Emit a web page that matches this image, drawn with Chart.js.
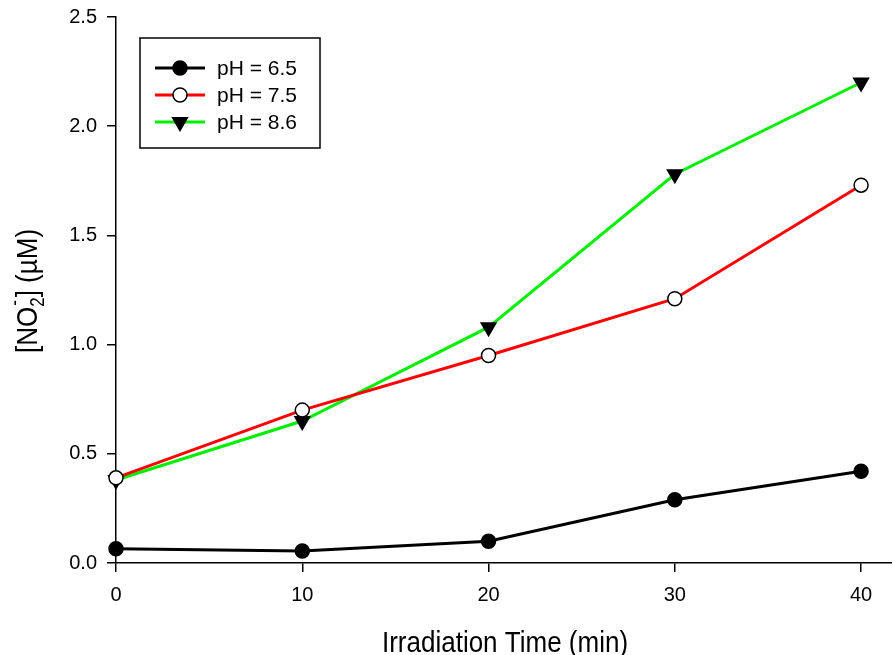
<!DOCTYPE html>
<html>
<head>
<meta charset="utf-8">
<script src="https://cdn.jsdelivr.net/npm/chart.js@4.4.1/dist/chart.umd.min.js"></script>
<style>
  html, body { margin: 0; padding: 0; background: #fff; }
  #wrap { width: 892px; height: 655px; position: relative; }
</style>
</head>
<body>
<div id="wrap"><canvas id="c"></canvas></div>
<script>
const times = [0, 10, 20, 30, 40]
const ph65 = [0.065, 0.055, 0.10, 0.29, 0.42]
const ph75 = [0.39, 0.70, 0.95, 1.21, 1.73]
const ph86 = [0.38, 0.65, 1.08, 1.78, 2.20]
const seriesLabels = ['pH = 6.5', 'pH = 7.5', 'pH = 8.6']
const xTitle = 'Irradiation Time (min)'

const FONT = '"Liberation Sans", Arial, Helvetica, sans-serif'
const STRETCH = 1.15

const pts = vals => times.map((t, i) => ({ x: t, y: vals[i] }))

const base = { borderWidth: 3, pointRadius: 7, pointHoverRadius: 7, pointBorderWidth: 1.5, pointBorderColor: '#000', clip: false, tension: 0 }

// legend box + axis titles (sub/superscripts need manual drawing)
const extras = {
  id: 'extras',
  afterDraw(chart) {
    const ctx = chart.ctx
    ctx.save()
    // legend
    const lx = 140, ly = 38, lw = 180, lh = 110
    ctx.fillStyle = '#fff'
    ctx.fillRect(lx, ly, lw, lh)
    ctx.strokeStyle = '#000'
    ctx.lineWidth = 1.5
    ctx.strokeRect(lx, ly, lw, lh)
    chart.data.datasets.forEach((ds, i) => {
      const y = ly + 30 + i * 27
      ctx.strokeStyle = ds.borderColor
      ctx.lineWidth = 3
      ctx.beginPath(); ctx.moveTo(155, y); ctx.lineTo(205, y); ctx.stroke()
      ctx.fillStyle = ds.pointBackgroundColor
      ctx.strokeStyle = '#000'
      ctx.lineWidth = 1.5
      Chart.helpers.drawPoint(ctx, { pointStyle: ds.pointStyle, rotation: ds.pointRotation || 0, radius: ds.pointRadius, borderWidth: 1.5 }, 180, y)
      ctx.fillStyle = '#000'
      ctx.font = '21px ' + FONT
      ctx.textAlign = 'left'
      ctx.textBaseline = 'middle'
      ctx.fillText(ds.label, 217, y + 1)
    })
    ctx.restore()

    // x title
    ctx.save()
    ctx.fillStyle = '#000'
    ctx.font = '26px ' + FONT
    ctx.textAlign = 'center'
    ctx.textBaseline = 'alphabetic'
    ctx.translate(505, 652)
    ctx.scale(1, STRETCH)
    ctx.fillText(xTitle, 0, 0)
    ctx.restore()

    // y title: [NO2-] (µM)
    ctx.save()
    ctx.fillStyle = '#000'
    ctx.textAlign = 'left'
    ctx.textBaseline = 'alphabetic'
    ctx.translate(37, 291)
    ctx.rotate(-Math.PI / 2)
    ctx.scale(1, STRETCH)
    const big = '26px ' + FONT, small = '17px ' + FONT
    ctx.font = big
    const w1 = ctx.measureText('[NO').width
    const w3 = ctx.measureText('] (\u00b5M)').width
    ctx.font = small
    const w2 = Math.max(ctx.measureText('2').width, ctx.measureText('-').width)
    let x = -(w1 + w2 + w3) / 2
    ctx.font = big
    ctx.fillText('[NO', x, 0)
    x += w1
    ctx.font = small
    ctx.fillText('2', x, 6)
    ctx.fillText('-', x + 1, -14)
    x += w2
    ctx.font = big
    ctx.fillText('] (\u00b5M)', x, 0)
    ctx.restore()
  }
}

new Chart(document.getElementById('c'), {
  type: 'line',
  data: {
    datasets: [
      { ...base, label: seriesLabels[0], data: pts(ph65), borderColor: '#000', pointBackgroundColor: '#000', pointStyle: 'circle' },
      { ...base, label: seriesLabels[1], data: pts(ph75), borderColor: '#ff0000', pointBackgroundColor: '#fff', pointStyle: 'circle' },
      { ...base, label: seriesLabels[2], data: pts(ph86), borderColor: '#00ee00', pointBackgroundColor: '#000', pointStyle: 'triangle', pointRotation: 180, pointRadius: 8.5, pointHoverRadius: 8.5 }
    ]
  },
  options: {
    responsive: true,
    maintainAspectRatio: false,
    animation: false,
    layout: { autoPadding: false, padding: { top: 17, right: 0, left: 0, bottom: 0 } },
    plugins: { legend: { display: false }, tooltip: { enabled: false } },
    scales: {
      x: {
        type: 'linear', min: 0, max: 41.66,
        afterFit: s => { s.height = 92; s.paddingRight = 0; s.paddingLeft = 0 },
        border: { display: true, color: '#000', width: 1.5 },
        grid: { drawOnChartArea: false, drawTicks: true, tickLength: 9, color: '#000', lineWidth: 1.5 },
        ticks: { stepSize: 10, includeBounds: false, maxRotation: 0, color: '#000', padding: 11, font: { family: FONT, size: 20 } }
      },
      y: {
        min: 0, max: 2.5,
        afterFit: s => { s.width = 116; s.paddingTop = 0; s.paddingBottom = 0 },
        border: { display: true, color: '#000', width: 1.5 },
        grid: { drawOnChartArea: false, drawTicks: true, tickLength: 9, color: '#000', lineWidth: 1.5 },
        ticks: { stepSize: 0.5, color: '#000', padding: 10, font: { family: FONT, size: 20 }, callback: v => v.toFixed(1) }
      }
    }
  },
  plugins: [extras]
})
</script>
</body>
</html>
